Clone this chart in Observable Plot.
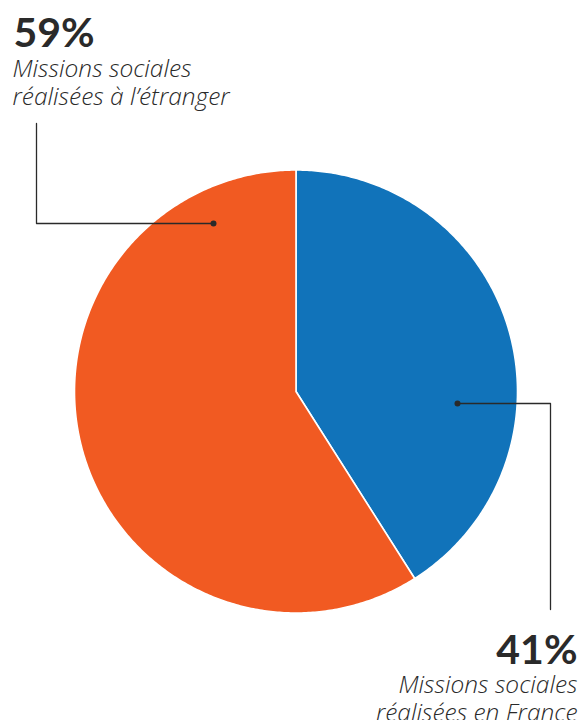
<!DOCTYPE html>
<html>
<head>
<meta charset="utf-8">
<script src="https://cdn.jsdelivr.net/npm/d3@7"></script>
<script src="https://cdn.jsdelivr.net/npm/@observablehq/plot@0.6"></script>
<style>
  html, body { margin: 0; padding: 0; background: #fff; }
  #chart svg { display: block; }
</style>
</head>
<body>
<div id="chart"></div>
<script>
// ---- data ----
const categories = ["Missions sociales réalisées en France", "Missions sociales réalisées à l’étranger"];
const shares = [41, 59];
const shareLabels = ["41%", "59%"];
const labelLine1 = ["Missions sociales", "Missions sociales"];
const labelLine2 = ["réalisées en France", "réalisées à l’étranger"];
const sliceColors = ["#1173ba", "#f15a22"];

// ---- layout constants ----
const W = 579, H = 720;
const cx = 295.5, cy = 391, R = 221.5;
const ink = "#2a2a2a";

const pie = d3.pie().sort(null).value(d => d.share)(categories.map((c, i) => ({cat: c, share: shares[i]})));

// polygon outline of each slice (geometry from the pie angles)
const slicePts = [];
pie.forEach(p => {
  const n = Math.max(4, Math.ceil((p.endAngle - p.startAngle) / 0.01));
  slicePts.push({cat: p.data.cat, x: cx, y: cy});
  for (let k = 0; k <= n; k++) {
    const a = p.startAngle + (p.endAngle - p.startAngle) * k / n;
    slicePts.push({cat: p.data.cat, x: cx + R * Math.sin(a), y: cy - R * Math.cos(a)});
  }
  slicePts.push({cat: p.data.cat, x: cx, y: cy});
});

// leader lines (annotation)
const leaders = [
  {id: "fr", x: 457, y: 403}, {id: "fr", x: 550, y: 403}, {id: "fr", x: 550, y: 609},
  {id: "et", x: 213, y: 223}, {id: "et", x: 36, y: 223}, {id: "et", x: 36, y: 123}
];
const dots = [{x: 457, y: 403}, {x: 213, y: 223}];

const leftBold = [{t: shareLabels[1], x: 13, y: 46}];
const rightBold = [{t: shareLabels[0], x: 577, y: 663}];
const leftIt = [
  {t: labelLine1[1], x: 12, y: 76},
  {t: labelLine2[1], x: 12, y: 104}
];
const rightIt = [
  {t: labelLine1[0], x: 577, y: 692},
  {t: labelLine2[0], x: 577, y: 720}
];

const boldStyle = {x: "x", y: "y", text: "t", lineAnchor: "bottom",
  fontSize: 41, fontWeight: "bold", fontFamily: "Lato, 'Open Sans', sans-serif", fill: ink};
const itStyle = {x: "x", y: "y", text: "t", lineAnchor: "bottom",
  fontSize: 24.5, fontWeight: 300, fontStyle: "italic", fontFamily: "'Open Sans', Lato, sans-serif", fill: ink};

const chart = Plot.plot({
  width: W, height: H,
  margin: 0,
  x: {type: "identity", axis: null},
  y: {type: "identity", axis: null},
  color: {domain: categories, range: sliceColors},
  marks: [
    Plot.line(slicePts, {x: "x", y: "y", z: "cat", fill: "cat", stroke: "#ffffff", strokeWidth: 1.6, strokeLinejoin: "round"}),
    Plot.line(leaders, {x: "x", y: "y", z: "id", stroke: ink, strokeWidth: 1.3}),
    Plot.dot(dots, {x: "x", y: "y", r: 3, fill: ink, stroke: null}),
    Plot.text(leftBold, {...boldStyle, textAnchor: "start"}),
    Plot.text(rightBold, {...boldStyle, textAnchor: "end"}),
    Plot.text(leftIt, {...itStyle, textAnchor: "start"}),
    Plot.text(rightIt, {...itStyle, textAnchor: "end"})
  ]
});
document.getElementById("chart").appendChild(chart);
</script>
</body>
</html>
